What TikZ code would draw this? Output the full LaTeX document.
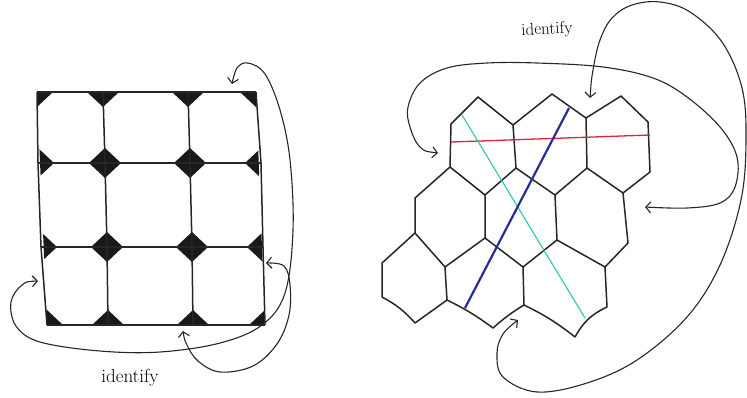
\documentclass[tikz,border=0pt]{standalone}
\usetikzlibrary{arrows.meta, calc, positioning}
\definecolor{cutred}{RGB}{225,35,55}
\definecolor{cutteal}{RGB}{40,200,170}
\definecolor{cutblue}{RGB}{40,45,150}

\begin{document}
\begin{tikzpicture}[
    x=1pt, y=1pt,
    tile/.style={draw=black!85, line width=1.5pt, line join=round},
    glue/.style={draw=black!85, line width=1.1pt, {Straight Barb[length=5pt,width=11pt]}-{Straight Barb[length=5pt,width=11pt]}},
    idtext/.style={inner sep=0pt}
]
\useasboundingbox (0,0) rectangle (747,-397);

% Left: square grid
\foreach \j/\y/\a/\b/\c/\d in {0/92/37/103/188/256, 1/163/38/105/190/261,
    2/247/41/107/192/263, 3/325/47/108/193/265}{
    \coordinate (g0\j) at (\a,-\y);
    \coordinate (g1\j) at (\b,-\y);
    \coordinate (g2\j) at (\c,-\y);
    \coordinate (g3\j) at (\d,-\y);
}

% black diamonds at the vertices
\begin{scope}
    \clip (g00) -- (g30) -- (g33) -- (g03) -- cycle;
    \foreach \i in {0,...,3}
        \foreach \j in {0,...,3}
            \fill[black!90] ($(g\i\j)+(-16,0)$) -- ++(16,15) -- ++(16,-15) -- ++(-16,-15) -- cycle;
\end{scope}
\foreach \j in {0,...,3}
    \draw[tile] (g0\j) -- (g1\j) -- (g2\j) -- (g3\j);
\foreach \i in {0,...,3}
    \draw[tile] (g\i0) -- (g\i1) -- (g\i2) -- (g\i3);

% Left identifications
\coordinate (tLl) at (38,-281);
\coordinate (tLt) at (232,-84);
\coordinate (tLb) at (183,-331);
\coordinate (tLr) at (266,-263);
\draw[glue] plot[smooth, tension=0.6] coordinates {(tLl) (22,-285) (11,-302) (16,-326)
    (40,-342) (100,-351) (160,-352) (220,-343) (262,-325) (285,-293) (293,-230)
    (290,-160) (280,-110) (265,-74) (248,-63) (237,-68) (tLt)};
\draw[glue] plot[smooth, tension=0.6] coordinates {(tLb) (187,-345) (198,-361) (220,-372)
    (253,-366) (277,-344) (289,-315) (290,-285) (284,-266) (tLr)};
\node[idtext, font=\fontsize{19}{19}\selectfont] (idL) at (130,-378) {identify};

% Right: hexagon patch
\foreach \n/\x/\y in {a1/478/97, a2/552/94, a3/621/96,
    b0/451/124, b1/513/125, b2/586/118, b3/648/122,
    c0/450/167, c1/516/168, c2/587/168, c3/650/172,
    e0/415/198, d0/485/195, d1/555/195, d2/623/193,
    f0/415/233, f1/485/238, f2/557/240, f3/628/243,
    h0/382/263, g0/445/267, g1/523/267, g2/605/267,
    i0/382/297, i1/447/300, i2/524/305, i3/607/307,
    j0/415/323, j1/493/328, j2/575/337}
    \coordinate (\n) at (\x,-\y);

\draw[tile] (c0) -- (b0) -- (a1) -- (b1) -- (a2) -- (b2) -- (a3) -- (b3) -- (c3) -- (d2)
    -- (c2) -- (d1) -- (c1) -- (d0) -- (c0);
\draw[tile] (b1) -- (c1) (b2) -- (c2);
\draw[tile] (c0) -- (e0) -- (f0) -- (g0) -- (f1) -- (g1) -- (f2) -- (g2) -- (f3) -- (d2);
\draw[tile] (d0) -- (f1) (d1) -- (f2);
\draw[tile] (f0) -- (h0) -- (i0) to[bend left=10] (j0) -- (i1)
    to[bend left=5] (j1) to[bend left=5] (i2) to[bend left=6] (j2)
    to[bend left=18] (i3) -- (g2);
\draw[tile] (g0) -- (i1) (g1) -- (i2);

% closed curves on the patch
\coordinate (rA) at (451,-142);
\coordinate (rB) at (650,-135);
\coordinate (tA) at (462,-115);
\coordinate (tB) at (585,-318);
\coordinate (bA) at (569,-108);
\coordinate (bB) at (465,-308);
\draw[cutred, line width=1.3pt] (rA) -- (rB);
\draw[cutteal, line width=1.1pt] (tA) -- (tB);
\draw[cutblue, line width=2.2pt] (bA) -- (bB);

% Right identifications
\coordinate (tRt) at (590,-98);
\coordinate (tRb) at (518,-320);
\coordinate (tRl) at (438,-153);
\coordinate (tRr) at (645,-207);
\draw[glue] plot[smooth, tension=0.6] coordinates {(tRt) (593,-70) (600,-40) (612,-18)
    (632,-5) (660,-2) (690,-12) (722,-42) (742,-88) (746,-140) (741,-200) (720,-265)
    (687,-317) (637,-360) (587,-383) (537,-392) (503,-377) (497,-353) (503,-334) (tRb)};
\draw[glue] plot[smooth, tension=0.6] coordinates {(tRl) (420,-147) (410,-127) (408,-107)
    (420,-83) (447,-68) (487,-63) (537,-63) (603,-67) (653,-78) (687,-97) (720,-127)
    (737,-157) (735,-187) (720,-203) (687,-208) (tRr)};
\node[idtext, font=\fontsize{17}{17}\selectfont, rotate=3] (idR) at (547,-30) {identify};
\end{tikzpicture}
\end{document}
